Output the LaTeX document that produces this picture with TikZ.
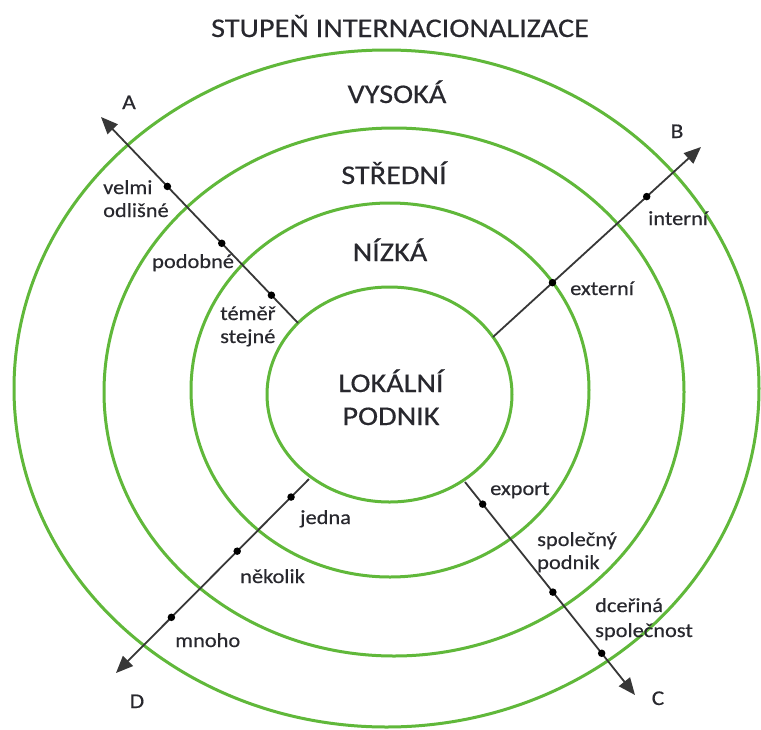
\documentclass[tikz,border=0pt]{standalone}
\usepackage{fontspec}
\setmainfont{Carlito}[FakeStretch=1.12,FakeBold=0.4]
\usetikzlibrary{arrows.meta,calc}
\definecolor{ringgreen}{RGB}{96,184,58}
\definecolor{axisgray}{RGB}{55,55,55}
\definecolor{txtgray}{RGB}{40,40,46}
\begin{document}
\begin{tikzpicture}[x=1pt,y=-1pt,
  ring/.style={draw=ringgreen,line width=3pt},
  axisline/.style={draw=axisgray,line width=1.8pt,-{Triangle[length=17pt,width=14pt]}},
  dotmark/.style={circle,fill=black,inner sep=0pt,minimum size=7.5pt},
  bigtext/.style={font=\fontsize{27}{32}\selectfont,text=txtgray,inner sep=0pt,anchor=base},
  smalltext/.style={font=\fontsize{20}{24}\selectfont,text=txtgray,inner sep=0pt,anchor=base west},
  letter/.style={font=\fontsize{21}{25}\selectfont,text=txtgray,inner sep=0pt,anchor=base}]
\useasboundingbox (0,0) rectangle (761,729);
\fill[white] (0,0) rectangle (761,729);

% rings
\draw[ring] (386.5,388.5) ellipse [x radius=372.5, y radius=338.5];
\draw[ring] (394,392) ellipse [x radius=290, y radius=264];
\draw[ring] (390,390) ellipse [x radius=199, y radius=187];
\draw[ring] (389.5,394.5) ellipse [x radius=122.5, y radius=107.5];

% title and ring labels
\node[bigtext] (title) at (400,37) {STUPEŇ INTERNACIONALIZACE};
\node[bigtext] (high) at (397,103) {VYSOKÁ};
\node[bigtext] (mid) at (394,184) {STŘEDNÍ};
\node[bigtext] (low) at (390,261) {NÍZKÁ};
\node[bigtext] (loc1) at (391,392) {LOKÁLNÍ};
\node[bigtext] (loc2) at (391,425) {PODNIK};

% axes
\coordinate (A0) at (298,323);
\coordinate (Aend) at (101,117);
\coordinate (B0) at (493,337);
\coordinate (Bend) at (701,147);
\coordinate (C0) at (465,482);
\coordinate (Cend) at (635,695);
\coordinate (D0) at (309,479);
\coordinate (Dend) at (116,673);

\draw[axisline] (A0) -- (Aend);
\draw[axisline] (B0) -- (Bend);
\draw[axisline] (C0) -- (Cend);
\draw[axisline] (D0) -- (Dend);

% dots
\node[dotmark] (a1) at ($(A0)!0.135!(Aend)$) {};
\node[dotmark] (a2) at ($(A0)!0.387!(Aend)$) {};
\node[dotmark] (a3) at ($(A0)!0.663!(Aend)$) {};
\node[dotmark] (b1) at ($(B0)!0.286!(Bend)$) {};
\node[dotmark] (b2) at ($(B0)!0.739!(Bend)$) {};
\node[dotmark] (c1) at ($(C0)!0.104!(Cend)$) {};
\node[dotmark] (c2) at ($(C0)!0.517!(Cend)$) {};
\node[dotmark] (c3) at ($(C0)!0.804!(Cend)$) {};
\node[dotmark] (d1) at ($(D0)!0.093!(Dend)$) {};
\node[dotmark] (d2) at ($(D0)!0.372!(Dend)$) {};
\node[dotmark] (d3) at ($(D0)!0.713!(Dend)$) {};

% axis letters
\node[letter] (la) at (129,109) {A};
\node[letter] (lb) at (677,138) {B};
\node[letter] (lc) at (658,705) {C};
\node[letter] (ld) at (137,708) {D};

% axis labels
\node[smalltext] (ta1) at (103,194) {velmi};
\node[smalltext] (ta2) at (103,217) {odlišné};
\node[smalltext] (ta3) at (152,268) {podobné};
\node[smalltext] (ta4) at (220,320) {téměř};
\node[smalltext] (ta5) at (220,343) {stejné};
\node[smalltext] (tb1) at (648,225) {interní};
\node[smalltext] (tb2) at (570,295) {externí};
\node[smalltext] (tc1) at (490,495) {export};
\node[smalltext] (tc2) at (537,546) {společný};
\node[smalltext] (tc3) at (537,569) {podnik};
\node[smalltext] (tc4) at (595,612) {dceřiná};
\node[smalltext] (tc5) at (595,637) {společnost};
\node[smalltext] (td1) at (300,524) {jedna};
\node[smalltext] (td2) at (240,583) {několik};
\node[smalltext] (td3) at (175,647) {mnoho};
\end{tikzpicture}
\end{document}
